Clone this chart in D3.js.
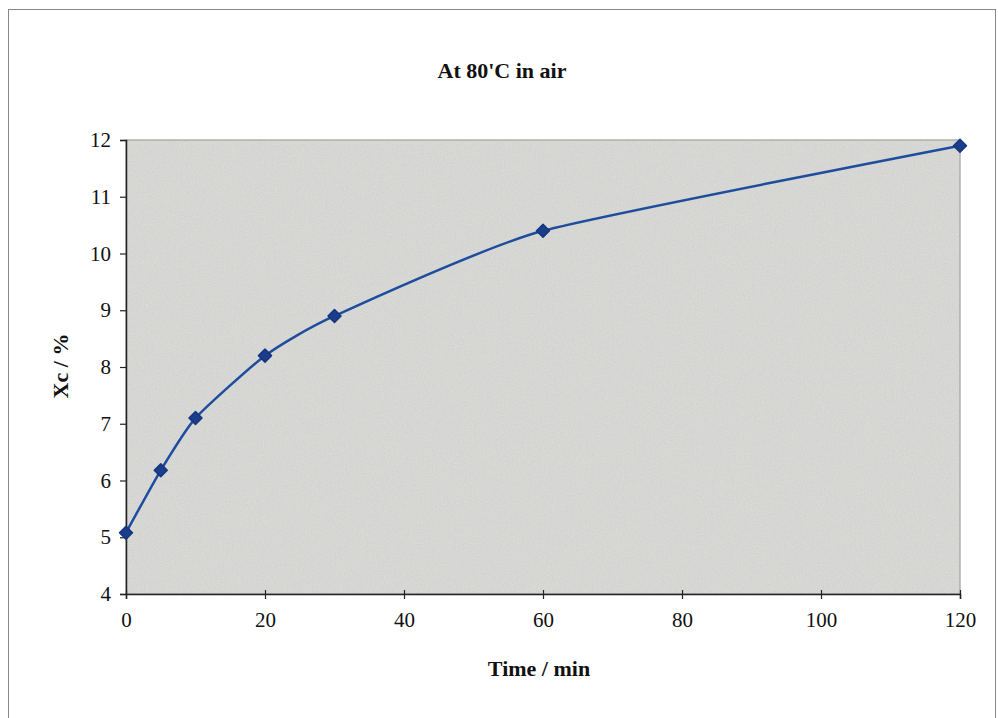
<!DOCTYPE html>
<html><head><meta charset="utf-8">
<script src="https://cdn.jsdelivr.net/npm/d3@7"></script>
<style>body{margin:0;background:#fff}svg{display:block}</style>
</head><body>
<svg id="c" width="998" height="718"></svg>
<script>
const timeMin = [0, 5, 10, 20, 30, 60, 120];
const xcPercent = [5.08, 6.18, 7.1, 8.2, 8.9, 10.4, 11.9];
const xTicks = [0, 20, 40, 60, 80, 100, 120];
const yTicks = [4, 5, 6, 7, 8, 9, 10, 11, 12];
const titleText = "At 80'C in air";
const xLabel = "Time / min";
const yLabel = "Xc / %";

const svg = d3.select("#c");
const font = "'Liberation Serif','Times New Roman',serif";
const m = {l:126, r:960, t:140, b:594};
const x = d3.scaleLinear().domain([0,120]).range([m.l, m.r]);
const y = d3.scaleLinear().domain([4,12]).range([m.b, m.t]);

// outer frame
svg.append("rect").attr("x",8.5).attr("y",9.5).attr("width",987).attr("height",720)
  .attr("fill","none").attr("stroke","#888").attr("stroke-width",1);

// plot area texture
const defs = svg.append("defs");
const f = defs.append("filter").attr("id","noise").attr("x",0).attr("y",0).attr("width",1).attr("height",1);
f.append("feTurbulence").attr("type","fractalNoise").attr("baseFrequency",0.9).attr("numOctaves",2).attr("seed",3).attr("result","n");
f.append("feColorMatrix").attr("in","n").attr("type","matrix")
  .attr("values","0 0 0 0 0.55  0 0 0 0 0.55  0 0 0 0 0.55  0.4 0.4 0.4 0 -0.35").attr("result","g");
f.append("feComposite").attr("in","g").attr("in2","SourceGraphic").attr("operator","in");

svg.append("rect").attr("x",m.l).attr("y",m.t).attr("width",m.r-m.l).attr("height",m.b-m.t)
  .attr("fill","#dcdcd9").attr("stroke","#8a8a8a").attr("stroke-width",1);
svg.append("rect").attr("x",m.l).attr("y",m.t).attr("width",m.r-m.l).attr("height",m.b-m.t)
  .attr("fill","#dcdcd9").attr("filter","url(#noise)");

// axes
const xAxis = svg.append("g").attr("transform",`translate(0,${m.b})`)
  .call(d3.axisBottom(x).tickValues(xTicks).tickSize(5).tickPadding(10).tickFormat(d3.format("d")));
xAxis.selectAll(".tick line").attr("y1",-4);
const yAxis = svg.append("g").attr("transform",`translate(${m.l},0)`)
  .call(d3.axisLeft(y).tickValues(yTicks).tickSize(6).tickPadding(9).tickFormat(d3.format("d")));
[xAxis,yAxis].forEach(a=>{
  a.select(".domain").attr("stroke","#222").attr("stroke-width",1.5);
  a.selectAll(".tick line").attr("stroke","#222").attr("stroke-width",1.2);
  a.selectAll("text").attr("font-family",font).attr("font-size",21).attr("fill","#111");
});
xAxis.selectAll("text").attr("dy","0.85em");

// line (light smoothing)
const line = d3.line().x((d,i)=>x(timeMin[i])).y(d=>y(d)).curve(d3.curveCardinal.tension(0.45));
svg.append("path").datum(xcPercent).attr("d",line).attr("fill","none")
  .attr("stroke","#1f4d9e").attr("stroke-width",2.5);

// markers (square diamonds)
const r = 6.5;
svg.selectAll(".mk").data(xcPercent).enter().append("path")
  .attr("transform",(d,i)=>`translate(${x(timeMin[i])},${y(d)})`)
  .attr("d",`M0,${-r}L${r},0L0,${r}L${-r},0Z`)
  .attr("fill","#1a3d8c").attr("stroke","#15357d").attr("stroke-width",1.5).attr("stroke-linejoin","round");

// texts
svg.append("text").attr("x",502).attr("y",78).attr("text-anchor","middle")
  .attr("font-family",font).attr("font-weight","bold").attr("font-size",22).attr("fill","#111").text(titleText);
svg.append("text").attr("x",539).attr("y",676).attr("text-anchor","middle")
  .attr("font-family",font).attr("font-weight","bold").attr("font-size",22).attr("fill","#111").text(xLabel);
svg.append("text").attr("transform","translate(68,366) rotate(-90)").attr("text-anchor","middle")
  .attr("font-family",font).attr("font-weight","bold").attr("font-size",22).attr("fill","#111").text(yLabel);
</script>
</body></html>
